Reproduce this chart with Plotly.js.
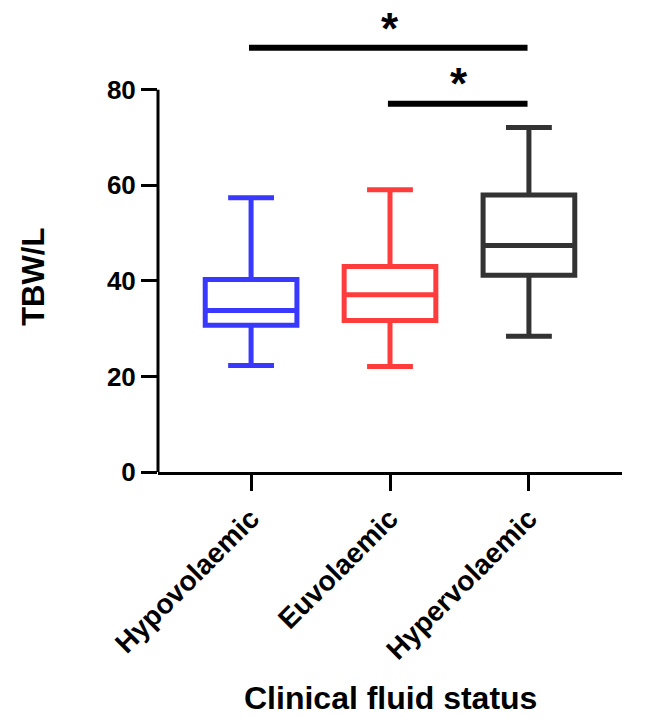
<!DOCTYPE html>
<html>
<head>
<meta charset="utf-8">
<script src="https://cdn.plot.ly/plotly-3.0.1.min.js"></script>
<style>html,body{margin:0;padding:0;background:#fff;}#chart{width:649px;height:718px;}</style>
</head>
<body>
<div id="chart"></div>
<script>
// ---- data ----
var categories = ['Hypovolaemic', 'Euvolaemic', 'Hypervolaemic'];
var lowerWhisker = [22.3, 22.1, 28.4];
var q1Values = [30.7, 31.7, 41.2];
var medianValues = [33.8, 37.1, 47.4];
var q3Values = [40.3, 43.0, 58.0];
var upperWhisker = [57.4, 59.1, 72.1];
var boxColors = ['#3838ff', '#ff3c3c', '#333333'];
var yTicks = [0, 20, 40, 60, 80];
// significance comparisons
var sigFrom = ['Hypovolaemic', 'Euvolaemic'];
var sigTo = ['Hypervolaemic', 'Hypervolaemic'];
var sigLevel = [88.8, 77.1];
var sigStarTop = [98.4, 86.9];
var sigLabel = ['*', '*'];

var FONT = 'Liberation Sans, Arial, Helvetica, sans-serif';

var traces = categories.map(function (c, i) {
  return {
    type: 'box',
    x: [c],
    q1: [q1Values[i]],
    median: [medianValues[i]],
    q3: [q3Values[i]],
    lowerfence: [lowerWhisker[i]],
    upperfence: [upperWhisker[i]],
    width: 0.66,
    whiskerwidth: 0.5,
    line: { color: boxColors[i], width: 5 },
    fillcolor: 'rgba(0,0,0,0)',
    boxpoints: false,
    hoverinfo: 'skip',
    showlegend: false
  };
});

var shapes = [];
var annotations = [];
// y axis line from 0 to 80
shapes.push({
  type: 'line', xref: 'paper', yref: 'y',
  x0: 0, x1: 0, y0: yTicks[0] - 0.35, y1: yTicks[yTicks.length - 1],
  line: { color: '#000', width: 3 }
});
for (var k = 0; k < sigFrom.length; k++) {
  var a = categories.indexOf(sigFrom[k]);
  var b = categories.indexOf(sigTo[k]);
  shapes.push({
    type: 'line', xref: 'x', yref: 'y',
    x0: a - 0.015, x1: b - 0.01, y0: sigLevel[k], y1: sigLevel[k],
    line: { color: '#000', width: 6 }
  });
  annotations.push({
    xref: 'x', yref: 'y', x: (a + b) / 2, y: sigStarTop[k],
    text: sigLabel[k], showarrow: false,
    xanchor: 'center', yanchor: 'top',
    font: { family: FONT, size: 44, color: '#000', weight: 'bold' }
  });
}
annotations.push({
  xref: 'paper', yref: 'y', x: -0.27, y: 40.8,
  text: 'TBW/L', textangle: -90, showarrow: false,
  xanchor: 'center', yanchor: 'middle',
  font: { family: FONT, size: 31, color: '#000', weight: 'bold' }
});
annotations.push({
  xref: 'paper', yref: 'paper', x: 0.5, y: (472 - 698) / 471,
  text: 'Clinical fluid status', showarrow: false,
  xanchor: 'center', yanchor: 'middle',
  font: { family: FONT, size: 32, color: '#000', weight: 'bold' }
});

var layout = {
  width: 649, height: 718,
  margin: { l: 158, r: 27, t: 1, b: 246, pad: 0 },
  paper_bgcolor: '#fff', plot_bgcolor: '#fff',
  showlegend: false,
  boxmode: 'overlay',
  xaxis: {
    type: 'category',
    range: [-0.67, 2.67],
    showline: true, linecolor: '#000', linewidth: 3,
    ticks: 'outside', ticklen: 16, tickwidth: 3, tickcolor: '#000',
    tickangle: -45,
    tickfont: { family: FONT, size: 28, color: '#000', weight: 'bold' },
    showgrid: false, zeroline: false, fixedrange: true
  },
  yaxis: {
    range: [0, 98.6],
    tickvals: yTicks,
    showline: false,
    ticks: 'outside', ticklen: 16, tickwidth: 3, tickcolor: '#000',
    tickfont: { family: FONT, size: 26, color: '#000', weight: 'bold' },
    showgrid: false, zeroline: false, fixedrange: true
  },
  shapes: shapes,
  annotations: annotations
};

Plotly.newPlot('chart', traces, layout, { displayModeBar: false, staticPlot: true });
</script>
</body>
</html>
